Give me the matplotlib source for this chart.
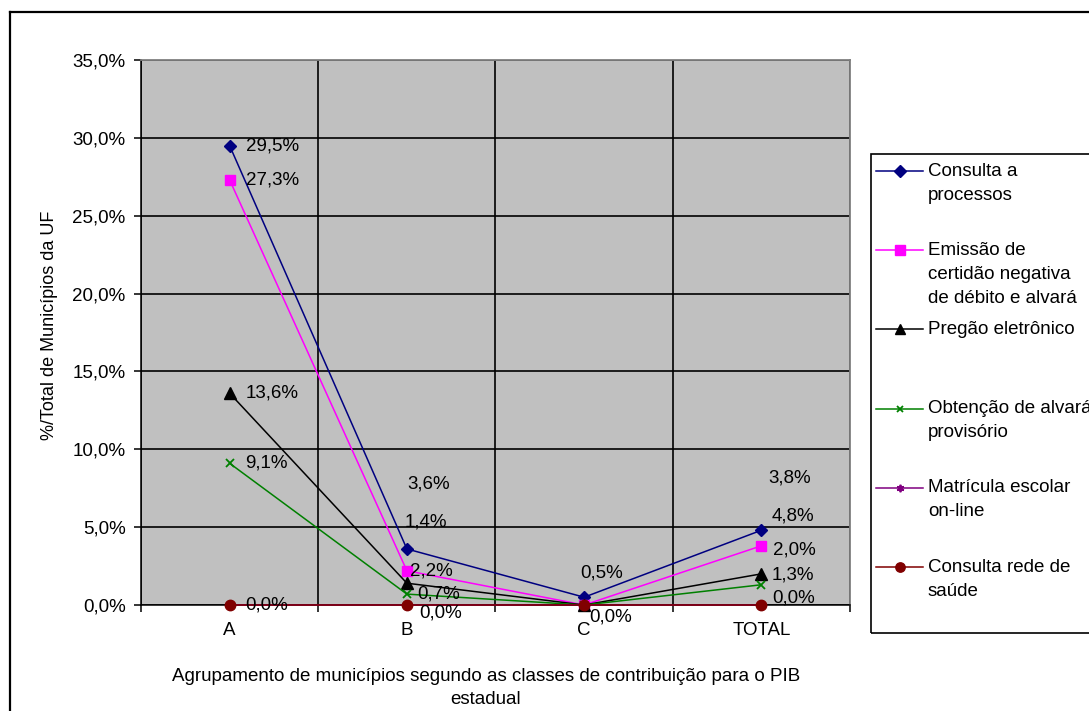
import numpy as np
import matplotlib.pyplot as plt
from matplotlib.lines import Line2D
from matplotlib.patches import Rectangle
from matplotlib.ticker import FixedLocator, FuncFormatter

plt.rcParams['font.family'] = ['Liberation Sans', 'DejaVu Sans']

categorias = ['A', 'B', 'C', 'TOTAL']

series_nomes = [
    'Consulta a\nprocessos',
    'Emissão de\ncertidão negativa\nde débito e alvará',
    'Pregão eletrônico',
    'Obtenção de alvará\nprovisório',
    'Matrícula escolar\non-line',
    'Consulta rede de\nsaúde',
]

consulta_processos = [29.5, 3.6, 0.5, 4.8]
emissao_certidao = [27.3, 2.2, 0.0, 3.8]
pregao_eletronico = [13.6, 1.4, 0.0, 2.0]
obtencao_alvara = [9.1, 0.7, 0.0, 1.3]
matricula_escolar = [0.0, 0.0, 0.0, 0.0]
consulta_saude = [0.0, 0.0, 0.0, 0.0]

valores = [consulta_processos, emissao_certidao, pregao_eletronico,
           obtencao_alvara, matricula_escolar, consulta_saude]

# estilo de cada serie (cor, marcador, tamanho)
estilos = [
    ('#000080', 'D', 6.5),
    ('#FF00FF', 's', 7.5),
    ('#000000', '^', 8.5),
    ('#008000', 'x', 5.5),
    ('#800080', (6, 2, 0), 6),
    ('#800000', 'o', 7.5),
]

# deslocamento dos rotulos de dados (serie, categoria) -> (dx, dy)
rotulos = {
    (0, 0): (0.09, 0.0), (0, 1): (0.0, 4.2), (0, 2): (-0.02, 1.55), (0, 3): (0.06, 0.93),
    (1, 0): (0.09, 0.0), (1, 1): (0.02, 0.0), (1, 3): (0.04, 4.35),
    (2, 0): (0.09, 0.0), (2, 1): (-0.01, 3.96), (2, 2): (0.03, -0.75), (2, 3): (0.065, 1.56),
    (3, 0): (0.09, 0.0), (3, 1): (0.06, 0.0), (3, 3): (0.06, 0.6),
    (5, 0): (0.09, 0.0), (5, 1): (0.07, -0.54), (5, 3): (0.06, 0.47),
}

W, H = 1089, 711
fs = 13.5


def fx(x):
    return x / W


def fy(y):
    return 1 - y / H


fig = plt.figure(figsize=(W / 100, H / 100), dpi=100)
ax = fig.add_axes([fx(141), fy(605), (850 - 141) / W, (605 - 60) / H])
ax.set_facecolor('#C0C0C0')

x = np.arange(len(categorias))
for i, vals in enumerate(valores):
    cor, mk, ms = estilos[i]
    mew = 1.3 if mk in ('x',) or isinstance(mk, tuple) else 1.0
    ax.plot(x, vals, color=cor, lw=1.1, marker=mk, ms=ms, mfc=cor, mec=cor,
            mew=mew, clip_on=False, zorder=3 + i)

for (s, c), (dx, dy) in rotulos.items():
    v = valores[s][c]
    txt = f'{v:.1f}%'.replace('.', ',')
    ax.text(c + dx, v + dy, txt, ha='left', va='center', fontsize=fs,
            color='black', zorder=10, clip_on=False)

ax.set_xlim(-0.5, 3.5)
ax.set_ylim(0, 35)

ax.yaxis.set_major_locator(FixedLocator(np.arange(0, 36, 5)))
ax.yaxis.set_major_formatter(FuncFormatter(lambda v, p: f'{v:.1f}%'.replace('.', ',')))
ax.tick_params(axis='y', direction='out', length=5, width=1.1, pad=6, labelsize=fs)

ax.xaxis.set_major_locator(FixedLocator([-0.5, 0.5, 1.5, 2.5, 3.5]))
ax.xaxis.set_major_formatter(FuncFormatter(lambda v, p: ''))
ax.xaxis.set_minor_locator(FixedLocator(x))
ax.set_xticklabels(categorias, minor=True)
ax.tick_params(axis='x', which='major', direction='out', length=5, width=1.1)
ax.tick_params(axis='x', which='minor', length=0, pad=12, labelsize=fs)

ax.grid(True, which='major', color='black', lw=1.2, zorder=1)
ax.set_axisbelow(True)

for lado in ('top', 'right'):
    ax.spines[lado].set_color('#808080')
    ax.spines[lado].set_linewidth(1.3)
for lado in ('left', 'bottom'):
    ax.spines[lado].set_color('black')
    ax.spines[lado].set_linewidth(1.1)

fig.text(fx(50), fy(325), '%/Total de Municípios da UF', rotation=90,
         ha='center', va='center', fontsize=13)
fig.text(fx(486), fy(688),
         'Agrupamento de municípios segundo as classes de contribuição para o PIB\nestadual',
         ha='center', va='center', fontsize=fs, linespacing=1.45)

# moldura externa do grafico
fig.add_artist(Line2D([fx(10), fx(10)], [fy(12), fy(H + 5)], color='black', lw=1.6))
fig.add_artist(Line2D([fx(10), fx(W + 5)], [fy(12), fy(12)], color='black', lw=1.6))

# legenda desenhada a mao
fig.add_artist(Rectangle((fx(871), fy(633)), (W + 20 - 871) / W, (633 - 154) / H,
                         transform=fig.transFigure, fill=False, ec='black', lw=1.2))
for i, nome in enumerate(series_nomes):
    cor, mk, ms = estilos[i]
    y0 = 171 + 79.2 * i
    mew = 1.3 if mk in ('x',) or isinstance(mk, tuple) else 1.0
    fig.add_artist(Line2D([fx(876), fx(923)], [fy(y0), fy(y0)], color=cor, lw=1.1))
    fig.add_artist(Line2D([fx(899.5)], [fy(y0)], color=cor, marker=mk,
                          ms=ms * 0.9, mfc=cor, mec=cor, mew=mew))
    for k, linha in enumerate(nome.split('\n')):
        fig.text(fx(928), fy(y0 + 24 * k), linha, ha='left', va='center', fontsize=fs)

fig.savefig('out.png', dpi=100)
